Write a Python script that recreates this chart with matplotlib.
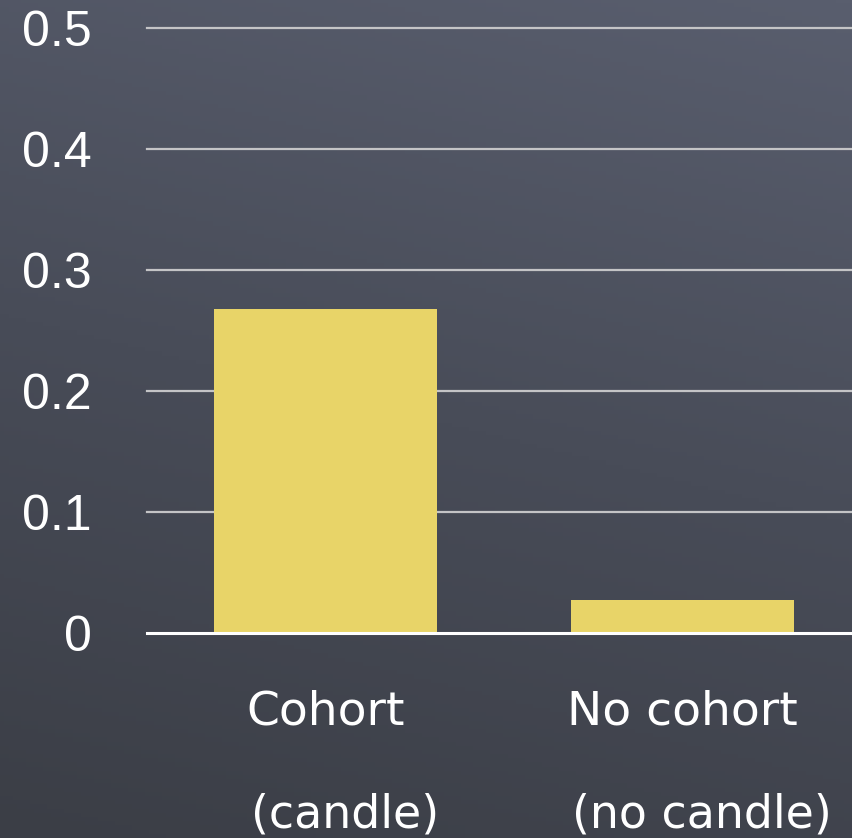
import numpy as np
import matplotlib
matplotlib.use("Agg")
import matplotlib.pyplot as plt
from matplotlib.colors import LinearSegmentedColormap

categories = ["Cohort", "No cohort"]
sublabels = ["(candle)", "(no candle)"]
values = [0.268, 0.027]
yticks = [0, 0.1, 0.2, 0.3, 0.4, 0.5]
yticklabels = ["0", "0.1", "0.2", "0.3", "0.4", "0.5"]

fig = plt.figure(figsize=(8.53, 8.38), dpi=100)

# background gradient
bg = fig.add_axes([0, 0, 1, 1], zorder=-10)
cmap = LinearSegmentedColormap.from_list("slate", ["#3b3e46", "#484c58", "#595e6e"])
yy, xx = np.mgrid[0:1:200j, 0:1:200j]
grad = 0.8 * yy + 0.2 * xx
bg.imshow(grad, cmap=cmap, origin="lower", extent=[0, 1, 0, 1], aspect="auto")
bg.axis("off")

ax = fig.add_axes([147 / 853, 1 - 633 / 838, 1 - 147 / 853, (633 - 28) / 838])
ax.set_facecolor("none")
x = np.arange(len(categories))
ax.bar(x, values, width=0.625, color="#e8d468", zorder=3)

ax.set_ylim(0, 0.5)
ax.set_xlim(-0.5, 1.478)
ax.set_yticks(yticks)
ax.set_yticklabels(yticklabels, fontsize=36, color="white", family="Liberation Sans")
ax.tick_params(axis="y", length=0, pad=40)
ax.set_xticks([])
for y in yticks[1:]:
    ax.axhline(y, color="#c4c4c6", lw=1.6, zorder=1, clip_on=False)
ax.axhline(0, color="white", lw=2.2, zorder=4, clip_on=False)
for s in ax.spines.values():
    s.set_visible(False)

for i, (c, sl) in enumerate(zip(categories, sublabels)):
    ax.text(i, -0.065, c, ha="center", va="center", fontsize=34, color="white",
            family="DejaVu Sans", clip_on=False)
    ax.text(i + 0.055, -0.15, sl, ha="center", va="center", fontsize=33, color="white",
            family="DejaVu Sans", clip_on=False)

fig.savefig("out.png", dpi=100)
